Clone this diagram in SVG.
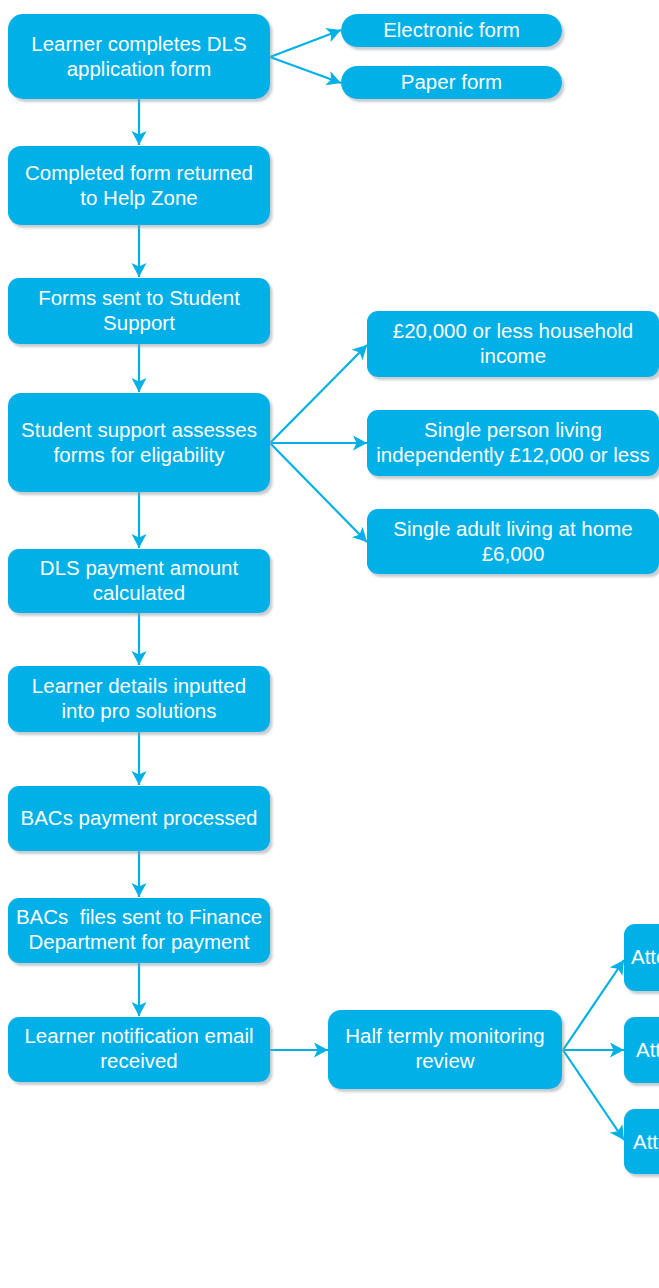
<svg xmlns="http://www.w3.org/2000/svg" width="659" height="1288" viewBox="0 0 659 1288">
<style>
.box{fill:#00b0e6;filter:url(#sh)}
.t{font-family:"Liberation Sans",Arial,sans-serif;font-size:20.5px;fill:#ffffff;text-anchor:middle;white-space:pre}
.c{stroke:#00b0e6;stroke-width:2.2;fill:none;marker-end:url(#ah)}
</style>
<defs>
<filter id="sh" x="-10%" y="-10%" width="130%" height="140%">
<feDropShadow dx="2.5" dy="3" stdDeviation="1.2" flood-color="#9aa3aa" flood-opacity="0.55"/>
</filter>
<marker id="ah" markerUnits="userSpaceOnUse" markerWidth="16" markerHeight="16" refX="14" refY="8" orient="auto">
<path d="M0,0.5 L14,8 L0,15.5 L3.5,8 Z" fill="#00b0e6"/>
</marker>
</defs>
<rect width="659" height="1288" fill="#ffffff"/>
<g id="connectors">
<line class="c" x1="270" y1="57" x2="341" y2="30"/>
<line class="c" x1="270" y1="57" x2="341" y2="83"/>
<line class="c" x1="139" y1="99" x2="139" y2="145"/>
<line class="c" x1="139" y1="225" x2="139" y2="277"/>
<line class="c" x1="139" y1="344" x2="139" y2="392"/>
<line class="c" x1="270" y1="443" x2="367" y2="345"/>
<line class="c" x1="270" y1="443" x2="367" y2="443"/>
<line class="c" x1="270" y1="443" x2="367" y2="542"/>
<line class="c" x1="139" y1="492" x2="139" y2="548"/>
<line class="c" x1="139" y1="613" x2="139" y2="665"/>
<line class="c" x1="139" y1="732" x2="139" y2="785"/>
<line class="c" x1="139" y1="851" x2="139" y2="897"/>
<line class="c" x1="139" y1="963" x2="139" y2="1016"/>
<line class="c" x1="270" y1="1050" x2="328" y2="1050"/>
<line class="c" x1="563" y1="1050" x2="624" y2="960"/>
<line class="c" x1="563" y1="1050" x2="624" y2="1050"/>
<line class="c" x1="563" y1="1050" x2="624" y2="1140"/>
</g>
<g id="n1"><rect class="box" x="8" y="14" width="262" height="85" rx="15"/><text class="t" x="139" y="51">Learner completes DLS</text><text class="t" x="139" y="76">application form</text></g>
<g id="n-electronic"><rect class="box" x="341" y="14" width="221" height="33" rx="16.5"/><text class="t" x="451.5" y="37">Electronic form</text></g>
<g id="n-paper"><rect class="box" x="341" y="66" width="221" height="33" rx="16.5"/><text class="t" x="451.5" y="89">Paper form</text></g>
<g id="n2"><rect class="box" x="8" y="146" width="262" height="79" rx="13"/><text class="t" x="139" y="180">Completed form returned</text><text class="t" x="139" y="205">to Help Zone</text></g>
<g id="n3"><rect class="box" x="8" y="278" width="262" height="66" rx="11"/><text class="t" x="139" y="305">Forms sent to Student</text><text class="t" x="139" y="330">Support</text></g>
<g id="n4"><rect class="box" x="8" y="393" width="262" height="99" rx="13"/><text class="t" x="139" y="437">Student support assesses</text><text class="t" x="139" y="462">forms for eligability</text></g>
<g id="n-income1"><rect class="box" x="367" y="311" width="292" height="66" rx="11"/><text class="t" x="513" y="338">£20,000 or less household</text><text class="t" x="513" y="363">income</text></g>
<g id="n-income2"><rect class="box" x="367" y="410" width="292" height="66" rx="11"/><text class="t" x="513" y="437">Single person living</text><text class="t" x="513" y="462">independently £12,000 or less</text></g>
<g id="n-income3"><rect class="box" x="367" y="509" width="292" height="65" rx="11"/><text class="t" x="513" y="536">Single adult living at home</text><text class="t" x="513" y="561">£6,000</text></g>
<g id="n5"><rect class="box" x="8" y="549" width="262" height="64" rx="11"/><text class="t" x="139" y="575">DLS payment amount</text><text class="t" x="139" y="600">calculated</text></g>
<g id="n6"><rect class="box" x="8" y="666" width="262" height="66" rx="11"/><text class="t" x="139" y="693">Learner details inputted</text><text class="t" x="139" y="718">into pro solutions</text></g>
<g id="n7"><rect class="box" x="8" y="786" width="262" height="65" rx="11"/><text class="t" x="139" y="825">BACs payment processed</text></g>
<g id="n8"><rect class="box" x="8" y="898" width="262" height="65" rx="11"/><text class="t" x="139" y="924">BACs  files sent to Finance</text><text class="t" x="139" y="949">Department for payment</text></g>
<g id="n9"><rect class="box" x="8" y="1017" width="262" height="65" rx="11"/><text class="t" x="139" y="1043">Learner notification email</text><text class="t" x="139" y="1068">received</text></g>
<g id="n10"><rect class="box" x="328" y="1010" width="234" height="79" rx="13"/><text class="t" x="445" y="1043">Half termly monitoring</text><text class="t" x="445" y="1068">review</text></g>
<g id="n-att1"><rect class="box" x="624" y="924" width="60" height="67" rx="11"/><text class="t" x="631" y="964" style="text-anchor:start">Atte</text></g>
<g id="n-att2"><rect class="box" x="624" y="1017" width="60" height="66" rx="11"/><text class="t" x="636" y="1057" style="text-anchor:start">Atte</text></g>
<g id="n-att3"><rect class="box" x="624" y="1109" width="60" height="65" rx="11"/><text class="t" x="633" y="1149" style="text-anchor:start">Atte</text></g>
</svg>
